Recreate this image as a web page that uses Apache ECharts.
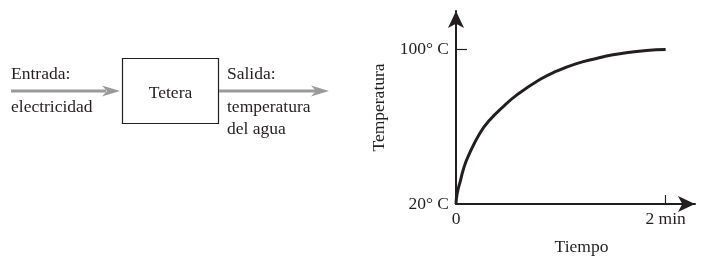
<!DOCTYPE html>
<html>
<head>
<meta charset="utf-8">
<script src="https://cdn.jsdelivr.net/npm/echarts@6/dist/echarts.min.js"></script>
<style>
  html, body { margin: 0; padding: 0; background: #fff; }
  #chart { width: 703px; height: 261px; }
</style>
</head>
<body>
<div id="chart"></div>
<script>
// curva de calentamiento (tiempo en min, temperatura en grados C)
var timeMin = [0, 0.01, 0.043, 0.07, 0.117, 0.229, 0.324, 0.45, 0.578, 0.8, 0.959, 1.15, 1.34, 1.498, 1.657, 1.816, 2.0];
var tempC = [20, 25.1, 32.3, 37.9, 44.8, 56.8, 63.6, 70.4, 76.4, 84.5, 88.8, 92.7, 95.4, 97.3, 98.6, 99.5, 100];
var yLabels = [20, 100];
var yTickVals = [100];
var xLabels = [0, 2];
var xTickVals = [2];

var ink = '#231f20';
var gray = '#9a9a9a';
var font = 'Liberation Serif';

function arrowHead(tipX, y) {
  return {
    type: 'polygon',
    shape: { points: [[tipX, y], [tipX - 18, y - 5.5], [tipX - 13, y], [tipX - 18, y + 5.5]] },
    style: { fill: gray }
  };
}
function txt(x, y, s, align) {
  return {
    type: 'text', x: x, y: y,
    style: { text: s, font: '17.5px "' + font + '"', fill: ink, align: align || 'left', verticalAlign: 'middle' }
  };
}

var points = [];
for (var i = 0; i < timeMin.length; i++) {
  points.push([timeMin[i], tempC[i]]);
}

var myChart = echarts.init(document.getElementById('chart'));
var option = {
  animation: false,
  textStyle: { fontFamily: font, color: ink },
  grid: { left: 456, right: 8, top: 11, bottom: 56 },
  xAxis: {
    type: 'value', min: 0, max: 2.28,
    name: 'Tiempo', nameLocation: 'middle', nameGap: 34,
    nameTextStyle: { fontSize: 17.5, color: ink, fontFamily: font, padding: [0, 0, 0, 12] },
    axisLine: { lineStyle: { color: ink, width: 2 }, symbol: ['none', 'arrow'], symbolSize: [12, 17] },
    axisTick: { show: true, inside: true, length: 9, customValues: xTickVals, lineStyle: { color: ink, width: 1.2 } },
    axisLabel: {
      customValues: xLabels, margin: 6, fontSize: 17.5, color: ink, fontFamily: font,
      formatter: function (v) { return v === 0 ? '0' : v + ' min'; }
    },
    splitLine: { show: false }
  },
  yAxis: {
    type: 'value', min: 20, max: 120,
    name: 'Temperatura', nameLocation: 'middle', nameRotate: 90, nameGap: 68,
    nameTextStyle: { fontSize: 17.5, color: ink, fontFamily: font },
    axisLine: { lineStyle: { color: ink, width: 2 }, symbol: ['none', 'arrow'], symbolSize: [12, 17] },
    axisTick: { show: true, inside: true, length: 11, customValues: yTickVals, lineStyle: { color: ink, width: 1.2 } },
    axisLabel: {
      customValues: yLabels, margin: 7, fontSize: 17.5, color: ink, fontFamily: font,
      formatter: function (v) { return v + '° C'; }
    },
    splitLine: { show: false }
  },
  series: [{
    type: 'line',
    data: points,
    smooth: 0.5,
    symbol: 'none',
    lineStyle: { color: ink, width: 3 }
  }],
  graphic: [
    // flecha de entrada
    { type: 'line', shape: { x1: 11, y1: 91, x2: 106, y2: 91 }, style: { stroke: gray, lineWidth: 3 } },
    arrowHead(120, 91),
    // caja
    { type: 'rect', shape: { x: 122.5, y: 58.5, width: 96, height: 65 }, style: { fill: '#fff', stroke: ink, lineWidth: 1.2 } },
    // flecha de salida
    { type: 'line', shape: { x1: 219, y1: 91, x2: 316, y2: 91 }, style: { stroke: gray, lineWidth: 3 } },
    arrowHead(329, 91),
    txt(11, 74, 'Entrada:'),
    txt(11, 107, 'electricidad'),
    txt(170.5, 93, 'Tetera', 'center'),
    txt(227, 74, 'Salida:'),
    txt(227, 107.5, 'temperatura'),
    txt(227, 129.5, 'del agua')
  ]
};
myChart.setOption(option);
</script>
</body>
</html>
